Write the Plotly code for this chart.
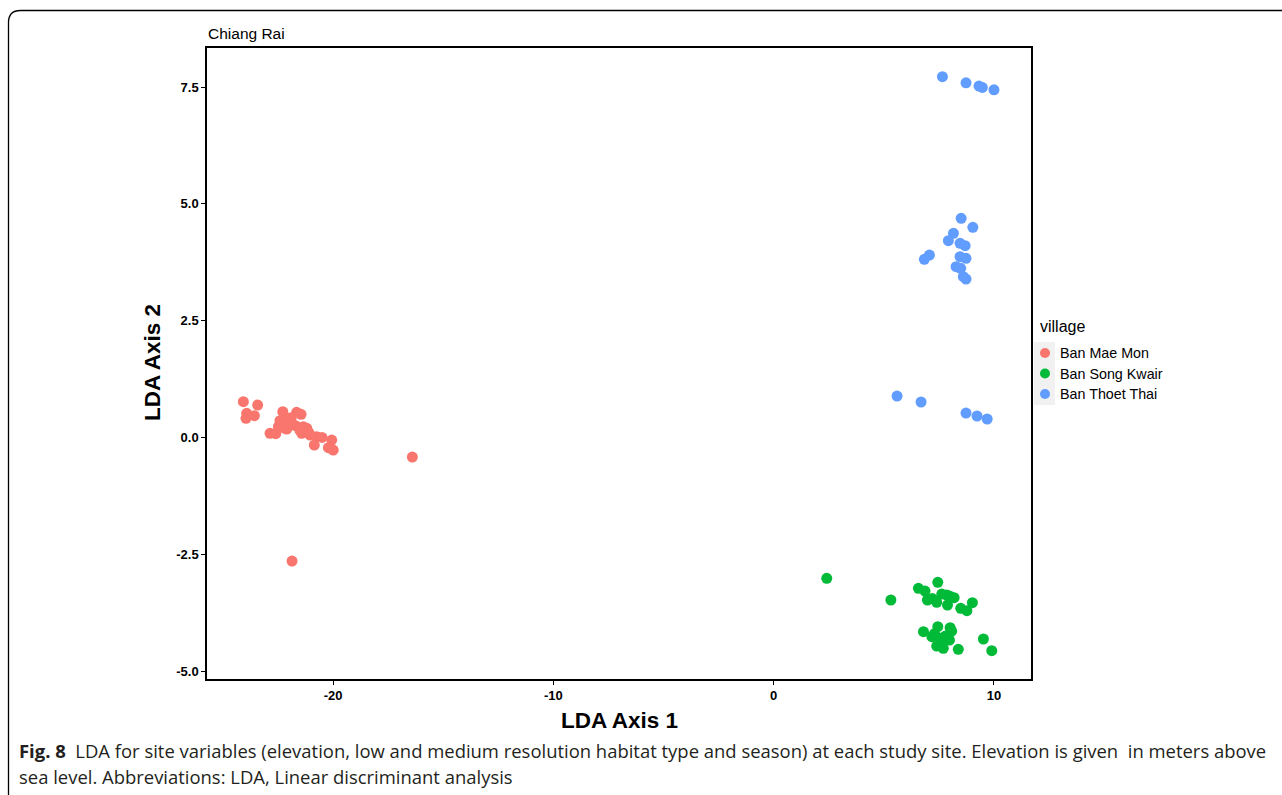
import plotly.graph_objects as go

# ---- data ----
mae_mon_x = [-24.07, -23.42, -23.92, -23.95, -23.57, -22.28, -21.65, -21.45, -22.41, -22.03,
             -21.87, -22.18, -22.48, -22.86, -21.35, -21.19, -21.42, -21.04, -20.74, -20.85,
             -20.06, -20.21, -19.99, -16.40, -21.86, -22.00, -21.70, -21.50, -21.10, -20.50,
             -22.60, -21.90, -22.10]
mae_mon_y = [0.764, 0.693, 0.516, 0.409, 0.464, 0.550, 0.537, 0.494, 0.357, 0.409,
             0.302, 0.195, 0.229, 0.088, 0.229, 0.195, 0.088, 0.051, 0.015, -0.163,
             -0.056, -0.220, -0.270, -0.420, -2.646, 0.300, 0.250, 0.150, 0.100, 0.000,
             0.080, 0.420, 0.180]

song_kwair_x = [2.41, 5.32, 6.57, 6.87, 7.45, 6.98, 7.40, 7.63, 7.86, 8.19,
                7.89, 8.49, 8.77, 9.02, 6.80, 7.45, 8.01, 8.08, 7.18, 7.55,
                7.98, 7.40, 7.70, 8.38, 9.52, 9.90, 7.63, 7.30, 7.80, 7.60, 8.00, 7.20]
song_kwair_y = [-3.016, -3.480, -3.230, -3.288, -3.101, -3.480, -3.530, -3.352, -3.373, -3.431,
                -3.587, -3.658, -3.709, -3.538, -4.159, -4.052, -4.073, -4.144, -4.266, -4.300,
                -4.337, -4.465, -4.514, -4.536, -4.315, -4.566, -4.373, -4.200, -4.250, -4.450,
                -3.400, -3.450]

thoet_thai_x = [8.51, 9.04, 8.16, 7.93, 8.46, 8.69, 7.07, 6.84, 8.46, 8.73,
                8.28, 8.49, 8.61, 8.73, 7.66, 8.73, 9.32, 9.47, 10.00,
                5.60, 6.69, 8.73, 9.23, 9.69]
thoet_thai_y = [4.690, 4.497, 4.369, 4.210, 4.155, 4.103, 3.904, 3.812, 3.868, 3.833,
                3.654, 3.619, 3.440, 3.390, 7.72, 7.59, 7.52, 7.49, 7.44,
                0.886, 0.758, 0.522, 0.458, 0.394]

villages = ["Ban Mae Mon", "Ban Song Kwair", "Ban Thoet Thai"]
colors = ["#F8766D", "#00BA38", "#619CFF"]

x_ticks = [-20, -10, 0, 10]
x_tick_labels = ["-20", "-10", "0", "10"]
y_ticks = [-5, -2.5, 0, 2.5, 5, 7.5]
y_tick_labels = ["-5.0", "-2.5", "0.0", "2.5", "5.0", "7.5"]

caption_line1 = ("<b>Fig. 8</b>  LDA for site variables (elevation, low and medium resolution habitat type "
                 "and season) at each study site. Elevation is given  in meters above")
caption_line2 = "sea level. Abbreviations: LDA, Linear discriminant analysis"

# ---- figure ----
FONT = "Liberation Sans, Arial, sans-serif"
fig = go.Figure()
for name, xs, ys, c in zip(villages,
                           [mae_mon_x, song_kwair_x, thoet_thai_x],
                           [mae_mon_y, song_kwair_y, thoet_thai_y],
                           colors):
    fig.add_trace(go.Scatter(x=xs, y=ys, mode="markers", name=name, showlegend=False,
                             marker=dict(color=c, size=11, line=dict(width=0))))

W, H = 1282, 795
L, R, T, B = 207, 1031, 48, 679

axis_common = dict(showgrid=False, zeroline=False, showline=True, linecolor="black",
                   linewidth=1.5, mirror=True, ticks="outside", ticklen=4,
                   tickcolor="black", tickwidth=1,
                   tickfont=dict(family=FONT, size=13, color="black"))

fig.update_layout(
    width=W, height=H,
    margin=dict(l=L, r=W - R, t=T, b=H - B, pad=0),
    paper_bgcolor="white", plot_bgcolor="white",
    font=dict(family=FONT, color="black"),
    xaxis=dict(range=[-25.72, 11.68], tickvals=x_ticks,
               ticktext=["<b>%s</b>" % t for t in x_tick_labels], **axis_common),
    yaxis=dict(range=[-5.171, 8.335], tickvals=y_ticks,
               ticktext=["<b>%s</b>" % t for t in y_tick_labels], **axis_common),
    showlegend=False,
)

px = lambda v: (v - L) / (R - L)
py = lambda v: (B - v) / (B - T)

# legend (ggplot style): grey key background, dots, labels
fig.add_shape(type="rect", xref="paper", yref="paper",
              x0=px(1034), x1=px(1055), y0=py(405), y1=py(342),
              fillcolor="#EBEBEB", opacity=0.7, line=dict(width=0), layer="below")
legend_y = [353, 373.5, 394]
for name, c, ly in zip(villages, colors, legend_y):
    fig.add_shape(type="circle", xref="paper", yref="paper",
                  xsizemode="pixel", ysizemode="pixel",
                  xanchor=px(1045), yanchor=py(ly), x0=-5, x1=5, y0=-5, y1=5,
                  fillcolor=c, line=dict(width=0))
    fig.add_annotation(text=name, x=px(1058), y=py(ly), xanchor="left", yanchor="middle",
                       xref="paper", yref="paper", showarrow=False,
                       font=dict(size=14.3, family=FONT, color="black"))
fig.add_annotation(text="village", x=px(1038), y=py(326), xanchor="left", yanchor="middle",
                   xref="paper", yref="paper", showarrow=False,
                   font=dict(size=16, family=FONT, color="black"))

# outer rounded frame
dx, dy = 12 / (R - L), 12 / (B - T)
x0, ytop, ybot, xr = px(8.5), py(10.5), py(800), px(1290)
fig.add_shape(type="path", xref="paper", yref="paper",
              path=f"M {x0},{ybot} L {x0},{ytop - dy} Q {x0},{ytop} {x0 + dx},{ytop} L {xr},{ytop}",
              line=dict(color="black", width=1.3))

annotations = [
    dict(text="Chiang Rai", x=px(206), y=py(33), xanchor="left", yanchor="middle",
         font=dict(size=15.5, family=FONT)),
    dict(text="<b>LDA Axis 1</b>", x=px(619), y=py(720), xanchor="center", yanchor="middle",
         font=dict(size=22.5, family=FONT)),
    dict(text="<b>LDA Axis 2</b>", x=px(152), y=py(363), xanchor="center", yanchor="middle",
         textangle=-90, font=dict(size=22.5, family=FONT)),
    dict(text=caption_line1, x=px(17), y=py(750), xanchor="left", yanchor="middle",
         font=dict(size=18.45, family="Open Sans, Noto Sans", color="#231F20")),
    dict(text=caption_line2, x=px(17), y=py(776), xanchor="left", yanchor="middle",
         font=dict(size=18.45, family="Open Sans, Noto Sans", color="#231F20")),
]
for a in annotations:
    a.update(xref="paper", yref="paper", showarrow=False)
    fig.add_annotation(**a)

fig.write_html("out.html", config={"displayModeBar": False},
               post_script="document.body.style.margin='0px';document.body.style.overflow='hidden';")
